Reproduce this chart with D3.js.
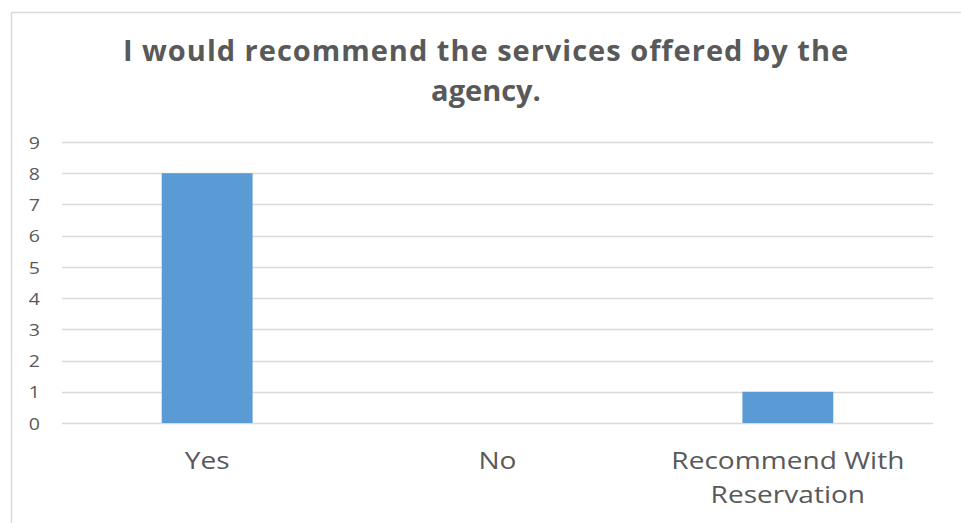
<!DOCTYPE html>
<html>
<head>
<meta charset="utf-8">
<script src="https://cdn.jsdelivr.net/npm/d3@7"></script>
<style>
  html, body { margin: 0; padding: 0; background: #fff; }
  svg { display: block; }
  text { font-family: "Open Sans", "Segoe UI", sans-serif; fill: #595959; }
</style>
</head>
<body>
<script>
// Survey responses
const categories = ["Yes", "No", "Recommend With Reservation"];
const counts = [8, 0, 1];
const yTicks = [0, 1, 2, 3, 4, 5, 6, 7, 8, 9];
const titleLines = ["I would recommend the services offered by the", "agency."];
const categoryLines = [["Yes"], ["No"], ["Recommend With", "Reservation"]];

const W = 961, H = 523;
const plot = { left: 62, right: 933, top: 142, bottom: 423 };
const textColor = "#595959";

const svg = d3.select("body").append("svg")
  .attr("width", W).attr("height", H);

// chart frame
svg.append("rect")
  .attr("x", 11.5).attr("y", 12.5)
  .attr("width", W + 20).attr("height", H + 20)
  .attr("fill", "#fff").attr("stroke", "#d9d9d9").attr("stroke-width", 1.5);

// title
const titleSpacing = [1.0, 0];
titleLines.forEach((line, i) => {
  svg.append("text")
    .attr("x", 486).attr("y", 61 + i * 40)
    .attr("text-anchor", "middle")
    .attr("font-weight", 700)
    .attr("font-size", 29)
    .attr("letter-spacing", titleSpacing[i])
    .text(line);
});

const x = d3.scaleBand()
  .domain(categories)
  .range([plot.left, plot.right])
  .paddingInner(0)
  .paddingOuter(0);

const y = d3.scaleLinear()
  .domain([0, 9])
  .range([plot.bottom, plot.top]);

// gridlines
svg.append("g")
  .selectAll("line")
  .data(yTicks)
  .join("line")
  .attr("x1", plot.left).attr("x2", plot.right)
  .attr("y1", d => Math.round(y(d)) + 0.5).attr("y2", d => Math.round(y(d)) + 0.5)
  .attr("stroke", "#d9d9d9").attr("stroke-width", 1.5);

// y axis labels
const yAxis = d3.axisLeft(y).tickValues(yTicks).tickSize(0).tickPadding(0);
const gy = svg.append("g")
  .attr("transform", `translate(${40},0)`)
  .call(yAxis);
gy.select(".domain").remove();
gy.selectAll("text")
  .attr("fill", textColor)
  .attr("font-size", 17)
  .attr("font-family", "'Open Sans', sans-serif")
  .attr("dy", "0.36em")
  .attr("transform", "scale(1.15,1)");

// bars
const barRatio = 0.313;
svg.append("g")
  .selectAll("rect")
  .data(categories.map((c, i) => ({ c, v: counts[i] })))
  .join("rect")
  .attr("x", d => x(d.c) + x.bandwidth() * (1 - barRatio) / 2)
  .attr("width", x.bandwidth() * barRatio)
  .attr("y", d => y(d.v))
  .attr("height", d => y(0) - y(d.v))
  .attr("fill", "#5b9bd5");

// category labels
const xl = svg.append("g");
categories.forEach((c, i) => {
  const cx = x(c) + x.bandwidth() / 2;
  categoryLines[i].forEach((line, j) => {
    xl.append("text")
      .attr("transform", `translate(${cx},${469 + j * 34}) scale(1.17,1)`)
      .attr("text-anchor", "middle")
      .attr("font-size", 24)
      .text(line);
  });
});
</script>
</body>
</html>
